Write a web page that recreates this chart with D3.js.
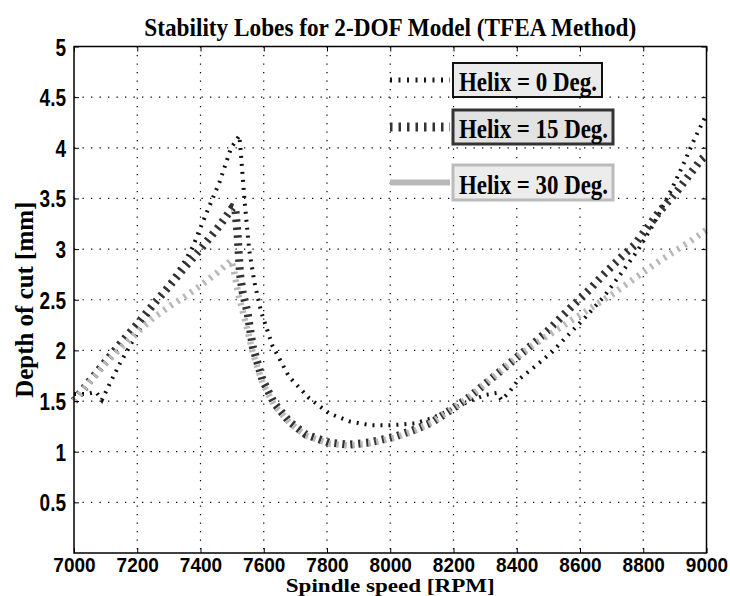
<!DOCTYPE html>
<html><head><meta charset="utf-8">
<script src="https://cdn.jsdelivr.net/npm/d3@7/dist/d3.min.js"></script>
<style>body{margin:0;background:#fff}</style>
</head><body>
<svg id="c" width="730" height="596"></svg>
<script>
const xTicks=[7000,7200,7400,7600,7800,8000,8200,8400,8600,8800,9000];
const yTicks=[0.5,1,1.5,2,2.5,3,3.5,4,4.5,5];
const seriesNames=["Helix = 0 Deg.","Helix = 15 Deg.","Helix = 30 Deg."];

const rpm0=[7000,7040,7070,7088,7105,7145,7200,7250,7300,7350,7375,7418,7460,7497,7523,7530,7539,7554,7570,7591,7627,7680,7743,7806,7870,7940,8000,8079,8132,8195,8250,8300,8337,8352,8379,8405,8457,8510,8562,8615,8678,8730,8783,8835,8888,8930,8961,9000];
const depth0=[1.57,1.57,1.59,1.51,1.62,1.87,2.17,2.43,2.66,2.88,3.02,3.35,3.66,4.00,4.12,3.85,3.49,2.99,2.68,2.39,2.05,1.74,1.53,1.38,1.30,1.26,1.26,1.28,1.33,1.42,1.50,1.56,1.58,1.51,1.60,1.71,1.84,1.98,2.15,2.32,2.54,2.76,2.99,3.26,3.58,3.86,4.08,4.33];

const rpm15=[7000,7050,7100,7150,7200,7250,7300,7350,7400,7460,7501,7510,7517,7525,7533,7549,7565,7596,7633,7680,7733,7806,7869,7932,8016,8079,8132,8200,8250,8300,8350,8400,8450,8500,8573,8630,8678,8730,8772,8810,8846,8909,8950,8982,9000];
const depth15=[1.50,1.70,1.89,2.08,2.26,2.45,2.63,2.82,3.00,3.23,3.41,3.40,3.16,2.75,2.58,2.37,2.04,1.71,1.48,1.30,1.17,1.09,1.07,1.09,1.15,1.22,1.29,1.43,1.54,1.67,1.80,1.93,2.06,2.20,2.43,2.60,2.76,2.92,3.04,3.20,3.35,3.58,3.75,3.88,3.93];

const rpm30=[7000,7050,7100,7150,7200,7250,7300,7350,7400,7450,7497,7505,7520,7545,7565,7596,7633,7680,7733,7806,7869,7932,8016,8079,8132,8200,8250,8300,8350,8400,8450,8500,8550,8600,8650,8700,8750,8800,8850,8900,8950,9000];
const depth30=[1.50,1.69,1.87,2.03,2.18,2.32,2.43,2.53,2.64,2.76,2.89,2.80,2.55,2.25,1.98,1.68,1.46,1.29,1.16,1.08,1.06,1.08,1.14,1.21,1.29,1.43,1.54,1.67,1.80,1.93,2.05,2.15,2.25,2.35,2.45,2.55,2.66,2.77,2.88,2.98,3.08,3.19];

const svg=d3.select("#c");
const L=74,R=706.5,T=46.5,B=553;
const x=d3.scaleLinear().domain([7000,9000]).range([L,R]);
const y=d3.scaleLinear().domain([0,5]).range([B,T]);

// grid
const grid=svg.append("g");
grid.selectAll("line.gx").data(xTicks.slice(1,-1)).join("line")
  .attr("x1",d=>x(d)).attr("x2",d=>x(d)).attr("y1",T).attr("y2",B)
  .attr("stroke","#000").attr("stroke-width",1.2).attr("stroke-dasharray","1.3,7.2");
grid.selectAll("line.gy").data(yTicks.slice(0,-1)).join("line")
  .attr("y1",d=>y(d)).attr("y2",d=>y(d)).attr("x1",L).attr("x2",R)
  .attr("stroke","#000").attr("stroke-width",1.2).attr("stroke-dasharray","1.3,7.2");

// curves
const line=d3.line().x(d=>x(d[0])).y(d=>y(d[1]));
const series=[
  {r:rpm0,d:depth0,color:"#111",w:4,dash:"2,6"},
  {r:rpm15,d:depth15,color:"#333",w:8,dash:"2.5,5.5"},
  {r:rpm30,d:depth30,color:"#b8b8b8",w:6.5,dash:"2.5,5.5"}
];
const plot=svg.append("g");
series.forEach(s=>{
  plot.append("path").datum(s.r.map((v,i)=>[v,s.d[i]]))
    .attr("d",line).attr("fill","none").attr("stroke",s.color)
    .attr("stroke-width",s.w).attr("stroke-dasharray",s.dash);
});

// axes
const fontTick="'Liberation Sans', Arial, sans-serif";
const ax=svg.append("g").attr("transform",`translate(0,${B})`)
  .call(d3.axisBottom(x).tickValues(xTicks).tickFormat(d3.format("d")).tickSizeInner(-5).tickSizeOuter(0));
const ay=svg.append("g").attr("transform",`translate(${L},0)`)
  .call(d3.axisLeft(y).tickValues(yTicks).tickFormat(d=>String(d)).tickSizeInner(-5).tickSizeOuter(0));
const axT=svg.append("g").attr("transform",`translate(0,${T})`)
  .call(d3.axisTop(x).tickValues(xTicks).tickFormat("").tickSizeInner(-5).tickSizeOuter(0));
const ayR=svg.append("g").attr("transform",`translate(${R},0)`)
  .call(d3.axisRight(y).tickValues(yTicks).tickFormat("").tickSizeInner(-5).tickSizeOuter(0));
[ax,ay,axT,ayR].forEach(g=>{
  g.select(".domain").remove();
  g.selectAll(".tick line").attr("stroke","#000").attr("stroke-width",1);
  g.selectAll("text").attr("font-family",fontTick).attr("font-weight","bold").attr("font-size",19).attr("fill","#000");
});
ax.selectAll(".tick text").attr("y",0).attr("dy",0).attr("transform","translate(0,18.5) scale(1,1.1)");
ay.selectAll(".tick text").attr("x",0).attr("dy",0).attr("transform","translate(-8,8.5) scale(1,1.25)");
svg.append("rect").attr("x",L).attr("y",T).attr("width",R-L).attr("height",B-T)
  .attr("fill","none").attr("stroke","#000").attr("stroke-width",1.5);

// titles
const serif="'Liberation Serif','Times New Roman',serif";
svg.append("text").attr("transform",`translate(${(L+R)/2},36) scale(1,1.2)`).attr("text-anchor","middle")
  .attr("font-family",serif).attr("font-weight","bold").attr("font-size",21)
  .attr("textLength",492).attr("lengthAdjust","spacingAndGlyphs")
  .text("Stability Lobes for 2-DOF Model (TFEA Method)");
svg.append("text").attr("x",(L+R)/2).attr("y",592).attr("text-anchor","middle")
  .attr("font-family",serif).attr("font-weight","bold").attr("font-size",18.5)
  .attr("textLength",209).attr("lengthAdjust","spacingAndGlyphs")
  .text("Spindle speed [RPM]");
svg.append("text").attr("transform",`translate(33,${(T+B)/2}) rotate(-90) scale(1,1.15)`).attr("text-anchor","middle")
  .attr("font-family",serif).attr("font-weight","bold").attr("font-size",22)
  .attr("textLength",196).attr("lengthAdjust","spacingAndGlyphs")
  .text("Depth of cut [mm]");

// legend
const boxes=[
  {x:453,y:63,w:149,h:34,fill:"#ebebeb",stroke:"#111",sw:2,tl:138},
  {x:453,y:110,w:160,h:34,fill:"#e2e2e2",stroke:"#333",sw:3,tl:149},
  {x:453,y:165,w:160,h:35,fill:"#ececec",stroke:"#bbb",sw:3,tl:149}
];
const legendDash=["2,6.5","2.5,6",null];
const legendW=[5,9,6];
const legendColor=["#111","#333","#b8b8b8"];
const lg=svg.append("g");
boxes.forEach((b,i)=>{
  const cy=b.y+b.h/2;
  const ls=lg.append("line").attr("x1",390).attr("x2",450).attr("y1",cy).attr("y2",cy)
    .attr("stroke",legendColor[i]).attr("stroke-width",legendW[i]);
  if(legendDash[i]) ls.attr("stroke-dasharray",legendDash[i]);
  lg.append("rect").attr("x",b.x).attr("y",b.y).attr("width",b.w).attr("height",b.h)
    .attr("fill",b.fill).attr("stroke",b.stroke).attr("stroke-width",b.sw);
  lg.append("text").attr("x",b.x+6).attr("y",b.y+b.h-6)
    .attr("font-family",serif).attr("font-weight","bold").attr("font-size",27)
    .attr("textLength",b.tl).attr("lengthAdjust","spacingAndGlyphs")
    .text(seriesNames[i]);
});
</script>
</body></html>
